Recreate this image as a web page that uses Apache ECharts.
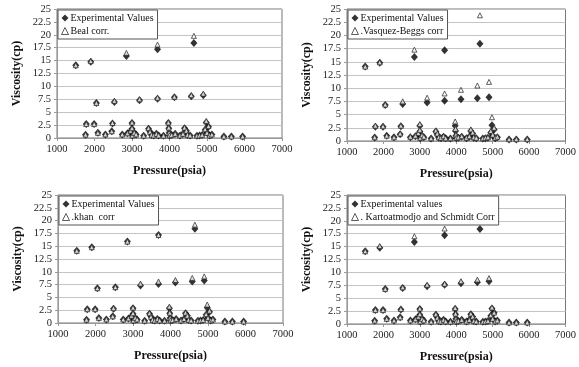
<!DOCTYPE html>
<html>
<head>
<meta charset="utf-8">
<script src="https://cdn.jsdelivr.net/npm/echarts@6/dist/echarts.min.js"></script>
<style>html,body{margin:0;padding:0;background:#fff;}#c{width:579px;height:367px;}</style>
</head>
<body>
<div id="c"></div>
<script>
// Pressure (psia) for each measured sample
const pressure = [1500,1900,2850,3680,4650, 2050,2530,3200,3680,4130,4580,4900,
  1780,1760,1990,2090,2290,2460,2480,2740,2880,2960,3000,3000,3010,3060,3110,3310,3440,3480,3520,3580,3650,3710,3840,
  3970,3980,3990,4000,4060,4150,4280,4360,4400,4450,4480,4550,4730,4800,4870,4950,4980,5000,5040,5070,5130,5450,5650,5950];
// Experimental viscosity (cp)
const experimental = [14.1,14.8,15.9,17.2,18.4, 6.8,7.0,7.3,7.6,7.9,8.1,8.3,
  2.7,0.65,2.7,1.0,0.7,1.3,2.8,0.7,0.9,1.3,2.9,1.8,0.5,1.0,0.7,0.45,1.8,1.2,0.6,0.5,0.8,0.5,0.45,
  2.9,1.9,1.0,0.5,0.6,0.8,0.5,0.8,1.9,1.4,0.6,0.5,0.45,0.5,0.6,1.6,3.0,1.0,2.2,0.5,0.7,0.3,0.3,0.3];
const beal = [14.1,14.9,16.5,18.1,19.8, 6.8,7.2,7.5,7.8,8.0,8.3,8.6,
  2.7,0.65,2.7,1.0,0.7,1.3,2.9,0.7,0.9,1.4,3.0,1.9,0.5,1.0,0.7,0.45,1.9,1.2,0.6,0.5,0.8,0.5,0.45,
  3.0,2.0,1.0,0.5,0.6,0.8,0.5,0.8,2.0,1.4,0.6,0.5,0.45,0.5,0.6,1.7,3.3,1.0,2.3,0.5,0.7,0.3,0.3,0.3];
const vasquezBeggs = [14.1,14.9,17.3,20.0,23.8, 6.9,7.5,8.2,9.0,9.7,10.5,11.2,
  2.9,0.7,2.8,1.0,0.7,1.4,2.9,0.8,1.0,1.5,3.2,2.1,0.6,1.1,0.8,0.5,2.0,1.4,0.7,0.6,0.9,0.5,0.5,
  3.7,2.3,1.2,0.6,0.7,0.9,0.6,0.9,2.2,1.6,0.7,0.6,0.5,0.6,0.7,1.9,4.5,1.2,2.5,0.6,0.8,0.35,0.35,0.35];
const khan = [14.1,14.8,15.9,17.2,19.2, 6.8,7.0,7.7,8.1,8.4,8.8,9.1,
  2.7,0.65,2.7,1.0,0.7,1.3,2.9,0.7,0.9,1.4,3.0,1.9,0.5,1.0,0.7,0.45,1.9,1.2,0.6,0.5,0.8,0.5,0.45,
  3.2,2.0,1.0,0.5,0.6,0.8,0.5,0.8,2.0,1.4,0.6,0.5,0.45,0.5,0.6,1.7,3.6,1.0,2.4,0.5,0.7,0.3,0.3,0.3];
const kartoatmodjo = [14.1,15.1,17.0,18.5,20.5, 6.8,7.1,7.6,7.8,8.3,8.6,8.9,
  2.7,0.65,2.7,1.0,0.7,1.3,2.9,0.7,0.9,1.4,3.0,1.9,0.5,1.0,0.7,0.45,1.9,1.2,0.6,0.5,0.8,0.5,0.45,
  3.1,2.0,1.0,0.5,0.6,0.8,0.5,0.8,2.0,1.4,0.6,0.5,0.45,0.5,0.6,1.7,3.2,1.0,2.2,0.5,0.7,0.3,0.3,0.3];

const xTicks = {min:1000, max:7000, interval:1000};
const yTicks = {min:0, max:25, interval:2.5};
const xTitle = 'Pressure(psia)';
const yTitle = 'Viscosity(cp)';

const panels = [
  {exp:'Experimental Values', corr:'Beal corr.', vals:beal},
  {exp:'Experimental Values', corr:'.Vasquez-Beggs corr', vals:vasquezBeggs},
  {exp:'Experimental Values', corr:'.khan  corr', vals:khan},
  {exp:'Experimental values', corr:'. Kartoatmodjo and Schmidt Corr', vals:kartoatmodjo}
];
const grids = [
  {left:57, top:9, width:225, height:129},
  {left:347, top:9, width:225, height:132},
  {left:58, top:195, width:225, height:128},
  {left:347, top:195, width:224, height:129}
];
const FONT = '"Liberation Serif", "DejaVu Serif", serif';
const pair = (ys) => pressure.map((p,i)=>[p, ys[i]]);

const option = {
  backgroundColor:'#fff',
  animation:false,
  grid: grids.map(g=>Object.assign({show:true, borderColor:'#777', borderWidth:1, backgroundColor:'transparent'}, g)),
  xAxis: grids.map((g,i)=>({
    gridIndex:i, type:'value', min:xTicks.min, max:xTicks.max, interval:xTicks.interval,
    name:xTitle, nameLocation:'middle', nameGap:27,
    nameTextStyle:{fontFamily:FONT, fontWeight:'bold', fontSize:12, color:'#111'},
    axisLine:{show:true, lineStyle:{color:'#999'}},
    axisTick:{show:true, length:3, lineStyle:{color:'#999'}},
    axisLabel:{fontFamily:FONT, fontSize:10.5, color:'#222', margin:6, formatter: v => String(v)},
    splitLine:{show:false}
  })),
  yAxis: grids.map((g,i)=>({
    gridIndex:i, type:'value', min:yTicks.min, max:yTicks.max, interval:yTicks.interval,
    name:yTitle, nameLocation:'middle', nameGap:34, nameRotate:90,
    nameTextStyle:{fontFamily:FONT, fontWeight:'bold', fontSize:12, color:'#111'},
    axisLine:{show:true, lineStyle:{color:'#999'}},
    axisTick:{show:true, length:3, lineStyle:{color:'#999'}},
    axisLabel:{fontFamily:FONT, fontSize:10.5, color:'#222', margin:6, formatter: v => String(v)},
    splitLine:{show:true, lineStyle:{color:'#c4c4c4', width:1}}
  })),
  legend: panels.map((p,i)=>({
    left: grids[i].left+1, top: grids[i].top+1,
    orient:'vertical', itemGap:3, itemWidth:7, itemHeight:7,
    padding:[3,4,3,3], borderColor:'#555', borderWidth:1, backgroundColor:'#fff',
    textStyle:{fontFamily:FONT, fontSize:10, color:'#111', padding:[0,0,0,-3]},
    data:[
      {name:p.exp+'#'+i, icon:'diamond', itemStyle:{color:'#000'}},
      {name:p.corr+'#'+i, icon:'triangle', itemStyle:{color:'#fff', borderColor:'#333', borderWidth:1}}
    ],
    formatter: n => n.split('#')[0]
  })),
  series: []
};
panels.forEach((p,i)=>{
  option.series.push({
    name:p.exp+'#'+i, type:'scatter', xAxisIndex:i, yAxisIndex:i,
    symbol:'diamond', symbolSize:[7,8],
    itemStyle:{color:'#000'},
    data: pair(experimental)
  });
  option.series.push({
    name:p.corr+'#'+i, type:'scatter', xAxisIndex:i, yAxisIndex:i,
    symbol:'triangle', symbolSize:[5,5],
    itemStyle:{color:'#fff', borderColor:'#333', borderWidth:1},
    data: pair(p.vals)
  });
});
const chart = echarts.init(document.getElementById('c'), null, {renderer:'canvas'});
chart.setOption(option);
</script>
</body>
</html>
